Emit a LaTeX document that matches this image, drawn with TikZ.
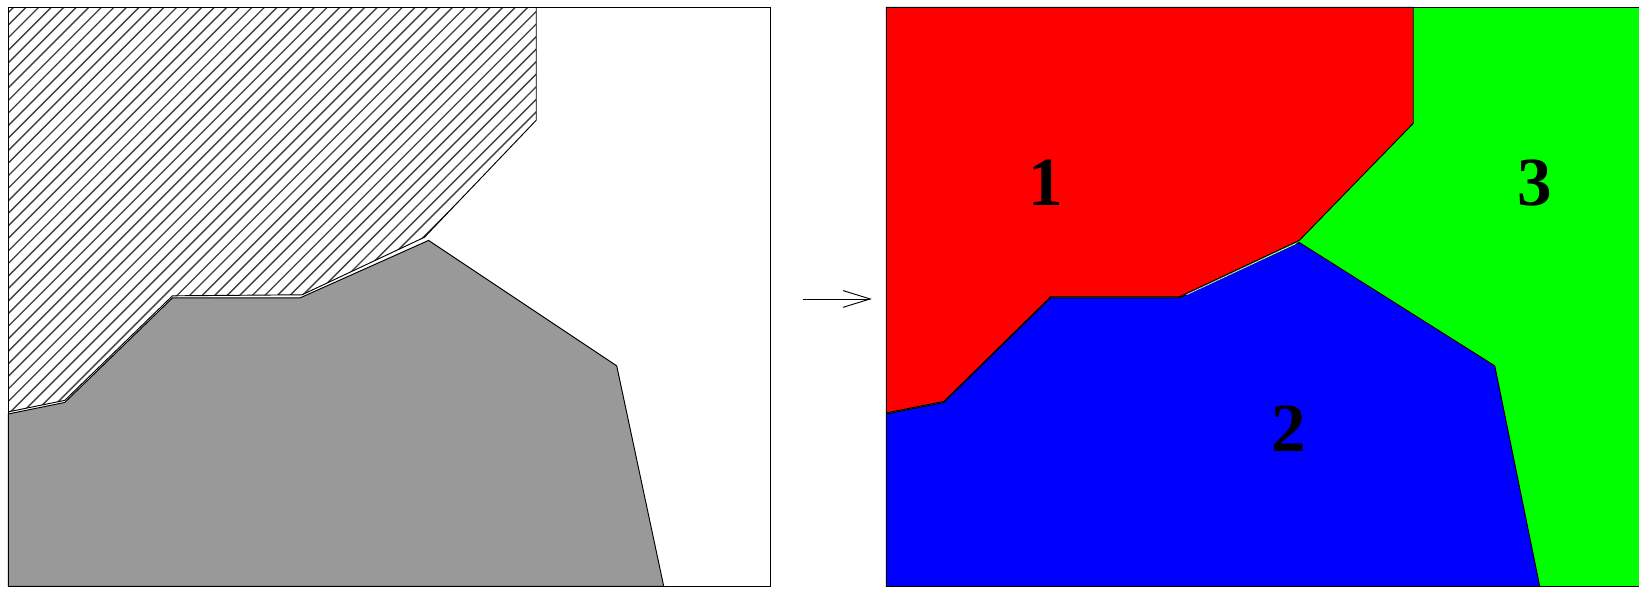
\documentclass[tikz,border=0pt]{standalone}
\usepackage{fontspec}
\setmainfont{Liberation Serif}
\usetikzlibrary{arrows.meta}
\begin{document}
\begin{tikzpicture}[x=1pt,y=-1pt,
  frame/.style={draw=black,line width=1.2pt},
  edge/.style={draw=black,line width=0.9pt,line join=miter},
  hatchline/.style={line width=1.3pt,black!75},
  lbl/.style={font=\fontsize{66}{70}\selectfont\bfseries,inner sep=0pt}]
\useasboundingbox (0,0) rectangle (1568,563);
% ---------- left panel ----------
\fill[white] (8,7) rectangle (737,561);
% gray region
\path[fill=black!40,edge] (8,396) -- (62,385) -- (165,285) -- (287,285) -- (410,230) -- (590,350) -- (635,561) -- (8,561) -- cycle;
% hatched region
\begin{scope}
  \clip (8,7) -- (513,7) -- (513,115) -- (406,227) -- (289,282) -- (165,283) -- (62,383) -- (8,394) -- cycle;
  \foreach \c in {-424,-412,...,530} {
    \draw[hatchline] (\c,420) -- (\c+420,0);
  }
\end{scope}
\draw[edge] (513,7) -- (513,115) -- (406,227) -- (289,282) -- (165,283) -- (62,383) -- (8,394);
\draw[frame] (8,7) rectangle (737,561);
% ---------- arrow ----------
\coordinate (a1) at (768,286);
\coordinate (a2) at (834,286);
\draw[line width=0.8pt,-{Straight Barb[length=26pt,width=16pt,line width=0.9pt]}] (a1) -- (a2);
% ---------- right panel ----------
\fill[green] (848,7) rectangle (1568,561);
\path[fill=red,edge] (848,7) -- (1352,7) -- (1352,118) -- (1243,230) -- (1128,284) -- (1005,284) -- (903,384) -- (848,395) -- cycle;
\path[fill=blue,edge] (848,396) -- (903,385) -- (1005,285) -- (1128,285) -- (1243,232) -- (1430,350) -- (1473,561) -- (848,561) -- cycle;
\draw[white,line width=0.6pt] (1135,282) -- (1240,233);
\draw[frame] (1568,7) -- (848,7) -- (848,561) -- (1568,561);
\node[lbl] (n1) at (1000,175) {1};
\node[lbl] (n2) at (1233,410) {2};
\node[lbl] (n3) at (1468,175) {3};
\end{tikzpicture}
\end{document}
